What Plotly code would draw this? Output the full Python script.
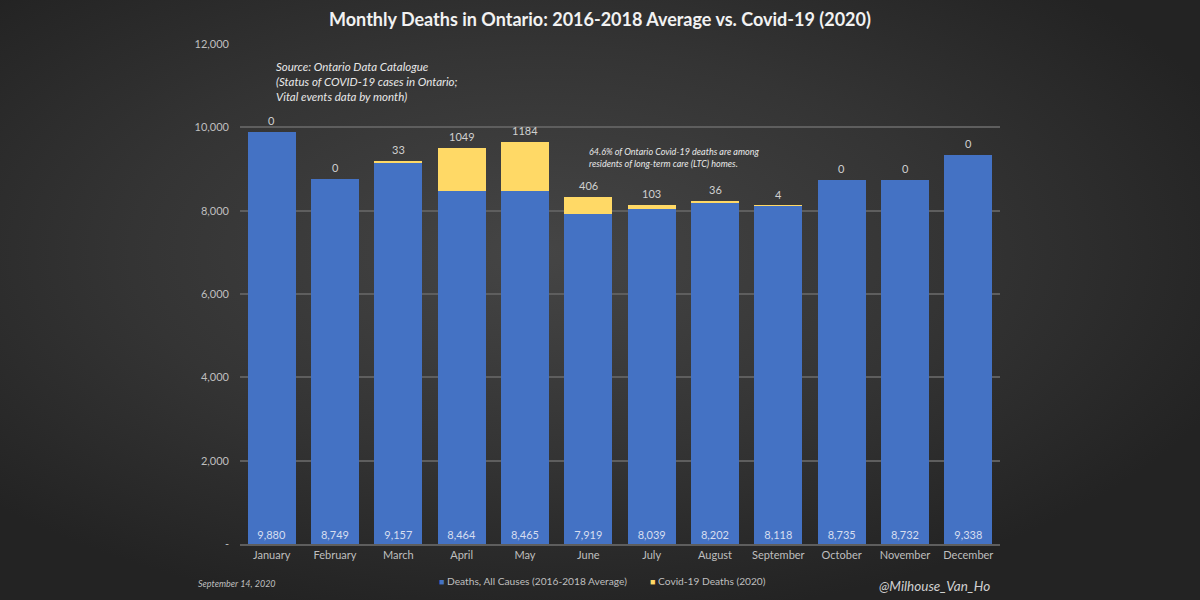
import base64
import plotly.graph_objects as go

months = ["January", "February", "March", "April", "May", "June", "July",
          "August", "September", "October", "November", "December"]
avg_deaths = [9880, 8749, 9157, 8464, 8465, 7919, 8039, 8202, 8118, 8735, 8732, 9338]
covid_deaths = [0, 0, 33, 1049, 1184, 406, 103, 36, 4, 0, 0, 0]
y_ticks = [0, 2000, 4000, 6000, 8000, 10000, 12000]
y_ticktext = ["-", "2,000", "4,000", "6,000", "8,000", "10,000", "12,000"]
series_names = ["Deaths, All Causes (2016-2018 Average)", "Covid-19 Deaths (2020)"]

FONT = "Lato"
BLUE = "#4472C4"
YELLOW = "#FFD966"

svg = """<svg xmlns='http://www.w3.org/2000/svg' width='1200' height='600' viewBox='0 0 1200 600' preserveAspectRatio='none'>
<defs><radialGradient id='g' cx='0.45' cy='0.42' r='0.62' fx='0.45' fy='0.42'>
<stop offset='0' stop-color='#454545'/><stop offset='0.55' stop-color='#343434'/><stop offset='1' stop-color='#232323'/>
</radialGradient></defs>
<rect width='1200' height='600' fill='url(#g)'/></svg>"""
bg_src = "data:image/svg+xml;base64," + base64.b64encode(svg.encode()).decode()

fig = go.Figure()
fig.add_trace(go.Bar(
    x=months, y=avg_deaths, name=series_names[0],
    marker=dict(color=BLUE, line=dict(width=0)),
    text=[f"{v:,}" for v in avg_deaths], textposition="inside",
    insidetextanchor="start", textangle=0,
    textfont=dict(family=FONT, size=11, color="#d6def0"),
))
fig.add_trace(go.Bar(
    x=months, y=covid_deaths, name=series_names[1],
    marker=dict(color=YELLOW, line=dict(width=0)),
))

for m, a, c in zip(months, avg_deaths, covid_deaths):
    fig.add_annotation(x=m, y=a + c, text=str(c), showarrow=False, yanchor="bottom",
                       yshift=3, font=dict(family=FONT, size=11, color="#d0d0d0"))

fig.add_annotation(xref="paper", yref="paper", x=0.045, y=0.972, xanchor="left", yanchor="top",
                   align="left", showarrow=False,
                   text="<i>Source: Ontario Data Catalogue<br>(Status of COVID-19 cases in Ontario;<br>Vital events data by month)</i>",
                   font=dict(family=FONT, size=11.5, color="#e8e8e8"))
fig.add_annotation(xref="paper", yref="paper", x=0.457, y=0.80, xanchor="left", yanchor="top",
                   align="left", showarrow=False,
                   text="<i>64.6% of Ontario Covid-19 deaths are among<br>residents of long-term care (LTC) homes.</i>",
                   font=dict(family=FONT, size=9, color="#e8e8e8"))
fig.add_annotation(xref="paper", yref="paper", x=-0.058, y=-0.078, xanchor="left", yanchor="middle",
                   showarrow=False, text="<i>September 14, 2020</i>",
                   font=dict(family=FONT, size=9, color="#bfbfbf"))
fig.add_annotation(xref="paper", yref="paper", x=0.99, y=-0.084, xanchor="right", yanchor="middle",
                   showarrow=False, text="<i>@Milhouse_Van_Ho</i>",
                   font=dict(family=FONT, size=13.5, color="#d0d0d0"))

# legend entries
for name, col, xp in zip(series_names, [BLUE, YELLOW], [0.259, 0.537]):
    fig.add_annotation(xref="paper", yref="paper", x=xp, y=-0.074, xanchor="left", yanchor="middle",
                       showarrow=False,
                       text=f"<span style='color:{col};font-size:9px'>■</span> {name}",
                       font=dict(family=FONT, size=10.2, color="#bfbfbf"))

fig.add_layout_image(source=bg_src, xref="paper", yref="paper",
                     x=-240 / 760, y=1 + 44 / 500, sizex=1200 / 760, sizey=600 / 500,
                     xanchor="left", yanchor="top", sizing="stretch", layer="below")

fig.update_layout(
    width=1200, height=600,
    margin=dict(l=240, r=200, t=44, b=56, autoexpand=False),
    paper_bgcolor="#2a2a2a", plot_bgcolor="rgba(0,0,0,0)",
    barmode="stack", bargap=0.24,
    title=dict(text="<b>Monthly Deaths in Ontario: 2016-2018 Average vs. Covid-19 (2020)</b>",
               x=0.5, xanchor="center", y=0.967, yanchor="middle",
               font=dict(family=FONT, size=18, color="#f2f2f2")),
    font=dict(family=FONT, color="#bfbfbf"),
    showlegend=False,
    xaxis=dict(showgrid=False, tickfont=dict(family=FONT, size=11, color="#bfbfbf"),
               showline=True, linecolor="#5e5e5e", linewidth=2, ticks="", ticklen=0),
    yaxis=dict(range=[0, 12000], tickvals=y_ticks, ticktext=y_ticktext,
               tickfont=dict(family=FONT, size=11, color="#bfbfbf"),
               gridcolor="#5e5e5e", gridwidth=1.5, zeroline=False, ticks="",
               showline=False, ticklabelstandoff=10),
)

fig.write_html("out.html", config={"displayModeBar": False},
               post_script="document.body.style.margin='0';document.body.style.background='#2a2a2a';")
